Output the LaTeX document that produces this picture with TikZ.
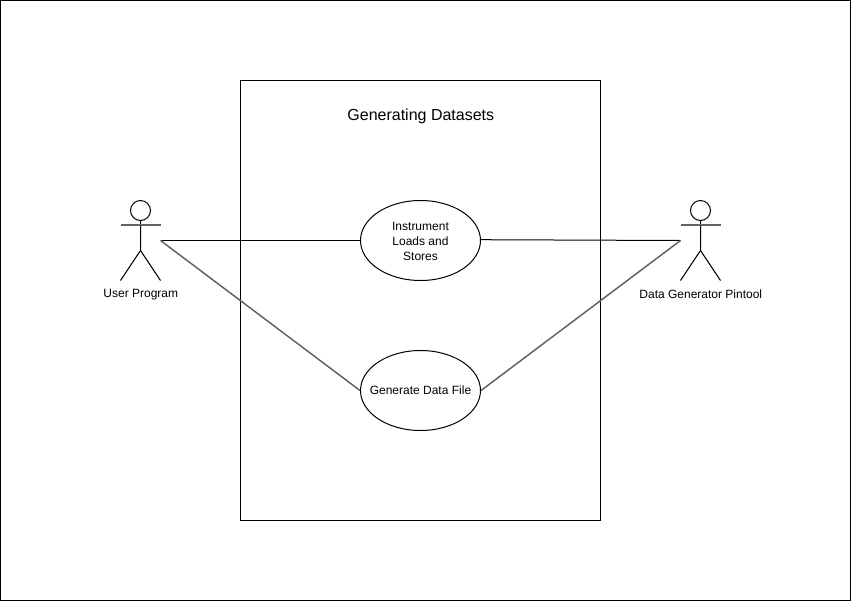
\documentclass[tikz,border=0pt]{standalone}
\usepackage{fontspec}
\setmainfont{Liberation Sans}
\usetikzlibrary{shapes.geometric}
\tikzset{
  usecase/.style={draw=black,line width=0.75pt,ellipse,minimum width=90pt,minimum height=60pt,inner sep=0pt,align=center,font=\fontsize{9}{11}\selectfont},
  lbl/.style={font=\fontsize{9}{11}\selectfont,inner sep=0pt},
  hlink/.style={draw=black,line width=0.75pt},
  dlink/.style={draw=black!62,line width=1.1pt},
  stick/.style={draw=black,line width=0.75pt},
  arm/.style={draw=black!62,line width=1.1pt}
}
\begin{document}
\begin{tikzpicture}[x=0.75pt,y=-0.75pt]
\useasboundingbox (0,0) rectangle (851,601);
\draw[black,line width=0.75pt] (0.5,0.5) rectangle (850.5,600.5);
\node[draw=black,line width=0.75pt,minimum width=270pt,minimum height=330pt,inner sep=0pt] (sys) at (420.5,300.5) {};
\node[inner sep=0pt,font=\fontsize{12}{14}\selectfont] (title) at (420.8,116) {Generating Datasets};
\node[usecase] (uc1) at (420.5,240.5) {};
\node[inner sep=0pt,align=center,font=\fontsize{9}{11}\selectfont] (uc1text) at (420.5,241.3) {Instrument\\Loads and\\Stores};
\node[usecase] (uc2) at (420.5,390.5) {\makebox[0pt]{Generate Data File}};
% user actor
\node[draw=black,line width=0.75pt,circle,minimum size=15pt,inner sep=0pt] (h1) at (140.5,210.5) {};
\coordinate (a1) at (160.5,240.5);
\coordinate (a1l) at (120.5,225);
\coordinate (a1r) at (160.5,225);
\coordinate (b1) at (140.5,250.5);
\coordinate (f1l) at (120.5,280.5);
\coordinate (f1r) at (160.5,280.5);
\draw[stick] (h1.south) -- (b1) -- (f1l);
\draw[stick] (b1) -- (f1r);
\draw[arm] (a1l) -- (a1r);
\node[lbl] (u) at (140.8,294.5) {User Program};
% pintool actor
\node[draw=black,line width=0.75pt,circle,minimum size=15pt,inner sep=0pt] (h2) at (700.5,210.5) {};
\coordinate (a2) at (680.5,240.5);
\coordinate (a2l) at (680.5,225);
\coordinate (a2r) at (720.5,225);
\coordinate (b2) at (700.5,250.5);
\coordinate (f2l) at (680.5,280.5);
\coordinate (f2r) at (720.5,280.5);
\draw[stick] (h2.south) -- (b2) -- (f2l);
\draw[stick] (b2) -- (f2r);
\draw[arm] (a2l) -- (a2r);
\node[lbl] (d) at (700.8,294.5) {Data Generator Pintool};
% connectors
\coordinate (uc1e) at (480.5,239.7);
\draw[hlink] (a1) -- (uc1.west);
\draw[dlink] (a1) -- (uc2.west);
\draw[hlink] (uc1e) -- (a2);
\draw[dlink] (uc2.east) -- (a2);
\end{tikzpicture}
\end{document}
